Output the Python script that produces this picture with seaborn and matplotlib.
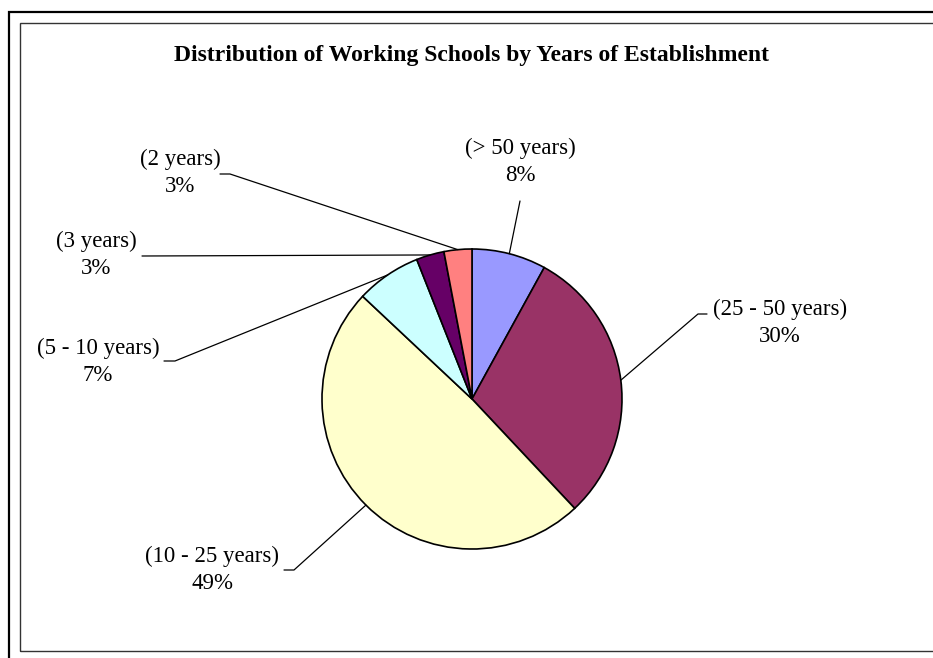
import matplotlib
matplotlib.use("Agg")
import matplotlib.pyplot as plt
import seaborn as sns
import numpy as np
from matplotlib.patches import Rectangle

# ---- data ----
categories = ["(> 50 years)", "(25 - 50 years)", "(10 - 25 years)",
              "(5 - 10 years)", "(3 years)", "(2 years)"]
values = [8, 30, 49, 7, 3, 3]
pct_labels = ["8%", "30%", "49%", "7%", "3%", "3%"]
colors = ["#9999FF", "#993366", "#FFFFCC", "#CCFFFF", "#660066", "#FF8080"]
title = "Distribution of Working Schools by Years of Establishment"

# label layout (pixel positions of text centre) and leader-line anchor points
label_pos = [(520, 162), (780, 323), (212, 570), (98, 362), (96, 255), (180, 173)]
leader_pts = [
    [(520, 201)],
    [(707, 314), (698, 314)],
    [(284, 570), (294, 570)],
    [(164, 361), (175, 361)],
    [(142, 256)],
    [(220, 174), (230, 174)],
]

sns.set_theme(style="white")
plt.rcParams['font.family'] = ['Liberation Serif', 'DejaVu Serif']

W, H = 933, 658
fig = plt.figure(figsize=(W / 100, H / 100), dpi=100)
fig.patch.set_facecolor("white")


def fx(px):
    return px / W


def fy(py):
    return 1 - py / H


# frames
fig.patches.append(Rectangle((fx(9), fy(720)), 1.2, (720 - 12) / H,
                             transform=fig.transFigure, fill=False,
                             edgecolor="black", linewidth=1.6))
fig.patches.append(Rectangle((fx(20), fy(651)), 1.2, (651 - 23) / H,
                             transform=fig.transFigure, fill=False,
                             edgecolor="#333333", linewidth=1.0))

fig.text(fx(472), fy(56), title, ha="center", va="center",
         fontsize=17, fontweight="bold", color="black")

cx, cy, r = 472, 399, 150
ax = fig.add_axes([fx(cx - r), fy(cy + r), 2 * r / W, 2 * r / H])
wedges, _ = ax.pie(values, colors=colors, startangle=90, counterclock=False,
                   wedgeprops=dict(edgecolor="black", linewidth=1.2))
ax.set_xlim(-1, 1)
ax.set_ylim(-1, 1)
ax.set_aspect("equal")
ax.axis("off")


def pix_to_data(px, py):
    return ((px - cx) / r, (cy - py) / r)


for w, cat, pct, pos, pts in zip(wedges, categories, pct_labels, label_pos, leader_pts):
    mid = np.deg2rad((w.theta1 + w.theta2) / 2)
    ex, ey = np.cos(mid), np.sin(mid)
    xs = [pix_to_data(*p)[0] for p in pts] + [ex]
    ys = [pix_to_data(*p)[1] for p in pts] + [ey]
    ax.plot(xs, ys, color="black", linewidth=0.9, clip_on=False)
    fig.text(fx(pos[0]), fy(pos[1]), f"{cat}\n{pct}", ha="center", va="center",
             fontsize=16.5, linespacing=1.38, color="black", multialignment="center")

fig.savefig("out.png", dpi=100, facecolor="white")
